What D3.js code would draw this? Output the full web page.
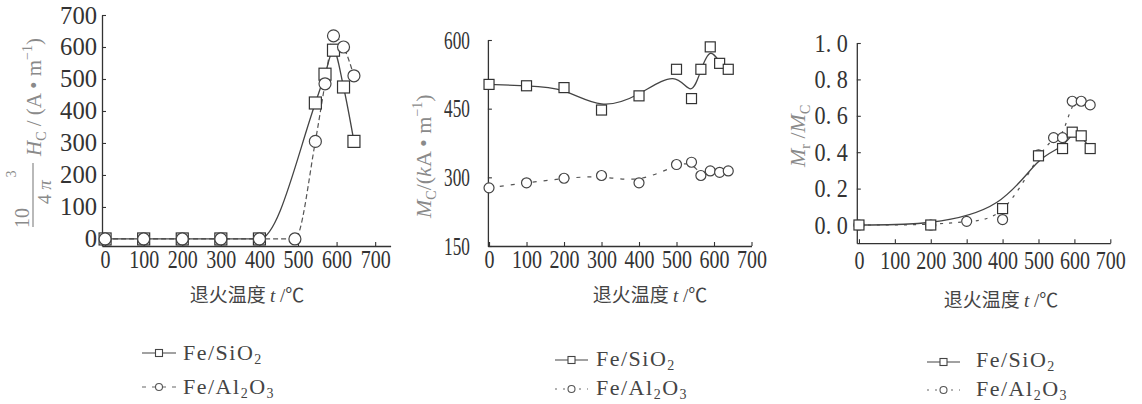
<!DOCTYPE html>
<html>
<head>
<meta charset="utf-8">
<script src="https://cdn.jsdelivr.net/npm/d3@7"></script>
<style>
body { margin: 0; background: #fff; }
</style>
</head>
<body>
<div id="chart"></div>
<script>
// coercivity panel (10^3/4pi Hc)
var hcSiT = [0, 100, 200, 300, 400, 545, 570, 592, 618, 645];
var hcSiV = [0, 0, 0, 0, 0, 425, 515, 590, 475, 305];
var hcAlT = [0, 100, 200, 300, 400, 492, 545, 570, 592, 618, 645];
var hcAlV = [0, 0, 0, 0, 0, 0, 305, 485, 635, 600, 510];

// saturation magnetization panel (kA/m)
var msSiT = [0, 100, 200, 300, 400, 500, 540, 565, 590, 615, 638];
var msSiV = [503, 500, 496, 447, 478, 536, 472, 536, 585, 549, 536];
var msAlT = [0, 100, 200, 300, 400, 500, 540, 565, 590, 615, 638];
var msAlV = [277, 288, 298, 304, 288, 328, 333, 304, 314, 311, 314];

// squareness panel (Mr/Mc)
var mrSiT = [0, 200, 400, 500, 567, 594, 619, 644];
var mrSiV = [0, 0, 0.09, 0.38, 0.42, 0.51, 0.49, 0.42];
var mrAlT = [0, 200, 300, 400, 500, 542, 567, 594, 619, 644];
var mrAlV = [0, 0, 0.02, 0.03, 0.385, 0.48, 0.48, 0.68, 0.68, 0.66];

var xTicks = [0, 100, 200, 300, 400, 500, 600, 700];
var hcTicks = [0, 100, 200, 300, 400, 500, 600, 700];
var msTicks = [150, 300, 450, 600];
var mrTicks = [0, 0.2, 0.4, 0.6, 0.8, 1.0];
var seriesNames = ["SiO", "Al"];

var W = 1142, H = 404;
var svg = d3.select("#chart").append("svg")
    .attr("width", W)
    .attr("height", H);

var serif = "'Liberation Serif', 'DejaVu Serif', serif";
var ink = "#333";

function zip(a, b) {
    return a.map(function(d, i) { return [d, b[i]]; });
}

function drawPanel(o) {
    var x = d3.scaleLinear().domain(o.xd).range(o.xr);
    var y = d3.scaleLinear().domain(o.yd).range(o.yr);
    var g = svg.append("g");

    // axes
    var ya = g.append("g")
        .attr("transform", "translate(" + o.xr[0] + ",0)")
        .call(d3.axisLeft(y).tickValues(o.yTicks).tickSize(-4).tickSizeOuter(0)
            .tickPadding(o.yPad).tickFormat(o.yFmt));
    var xa = g.append("g")
        .attr("transform", "translate(0," + o.yr[0] + ")")
        .call(d3.axisBottom(x).tickValues(xTicks).tickSize(-4).tickSizeOuter(0)
            .tickPadding(o.xPad));
    [ya, xa].forEach(function(a) {
        a.attr("font-family", serif);
        a.select(".domain").attr("stroke", ink).attr("stroke-width", 1.3);
        a.selectAll(".tick line").attr("stroke", ink).attr("stroke-width", 1.1);
        a.selectAll("text")
            .attr("font-family", serif)
            .attr("font-size", 25)
            .attr("fill", ink);
    });
    ya.selectAll("text").each(function() {
        var t = d3.select(this);
        t.attr("textLength", t.text().length * o.yChar).attr("lengthAdjust", "spacingAndGlyphs");
    });
    xa.selectAll("text").each(function() {
        var t = d3.select(this);
        t.attr("textLength", t.text().length * o.xChar).attr("lengthAdjust", "spacingAndGlyphs");
    });

    // curves
    var line = d3.line()
        .x(function(d) { return x(d[0]); })
        .y(function(d) { return y(d[1]); })
        .curve(o.curve);
    var si = zip(o.siT, o.siV), al = zip(o.alT, o.alV);
    g.append("path").datum(al)
        .attr("d", line).attr("fill", "none")
        .attr("stroke", "#555").attr("stroke-width", 1.2)
        .attr("stroke-dasharray", o.dash);
    g.append("path").datum(si)
        .attr("d", line).attr("fill", "none")
        .attr("stroke", "#444").attr("stroke-width", 1.3);

    // markers
    function squares() {
        g.selectAll(null).data(si).enter().append("rect")
            .attr("x", function(d) { return x(d[0]) - o.sq / 2; })
            .attr("y", function(d) { return y(d[1]) - o.sq / 2; })
            .attr("width", o.sq).attr("height", o.sq)
            .attr("fill", "#fff").attr("stroke", ink).attr("stroke-width", 1.2);
    }
    function circles() {
        g.selectAll(null).data(al).enter().append("circle")
            .attr("cx", function(d) { return x(d[0]); })
            .attr("cy", function(d) { return y(d[1]); })
            .attr("r", o.r)
            .attr("fill", "#fff").attr("stroke", "#444").attr("stroke-width", 1.2);
    }
    if (o.circlesOnTop) { squares(); circles(); } else { circles(); squares(); }

    // x title
    var xt = g.append("text")
        .attr("x", o.xtX).attr("y", o.xtY)
        .attr("text-anchor", "middle")
        .attr("font-family", "'Noto Sans CJK SC', sans-serif")
        .attr("font-size", 19)
        .attr("fill", "#444");
    xt.append("tspan").text("退火温度 ");
    xt.append("tspan").attr("font-family", serif).attr("font-style", "italic").text("t");
    xt.append("tspan").attr("font-family", serif).text(" /");
    xt.append("tspan").text("℃");

    // legend
    var lg = g.append("g").attr("transform", "translate(" + o.lgX + ",0)");
    seriesNames.forEach(function(s, i) {
        var yy = o.lgY[i];
        var cx = o.lgW / 2;
        if (i == 0) {
            lg.append("line").attr("x1", 0).attr("x2", o.lgW).attr("y1", yy).attr("y2", yy)
                .attr("stroke", "#444").attr("stroke-width", 1.2);
            lg.append("rect").attr("x", cx - 3.5).attr("y", yy - 3.5).attr("width", 7).attr("height", 7)
                .attr("fill", "#fff").attr("stroke", "#444").attr("stroke-width", 1.1);
        } else {
            lg.append("line").attr("x1", 0).attr("x2", o.lgW).attr("y1", yy).attr("y2", yy)
                .attr("stroke", "#666").attr("stroke-width", 1.1)
                .attr("stroke-dasharray", o.lgDash);
            lg.append("circle").attr("cx", cx).attr("cy", yy).attr("r", 3.5)
                .attr("fill", "#fff").attr("stroke", "#555").attr("stroke-width", 1.1);
        }
        var t = lg.append("text")
            .attr("x", o.lgTx).attr("y", o.lgBase[i])
            .attr("font-family", serif)
            .attr("font-size", 22)
            .attr("letter-spacing", 1.5)
            .attr("fill", "#444");
        if (i == 0) {
            t.append("tspan").text("Fe/SiO");
            t.append("tspan").attr("font-size", 14).attr("dy", 4).text("2");
        } else {
            t.append("tspan").text("Fe/Al");
            t.append("tspan").attr("font-size", 14).attr("dy", 4).text("2");
            t.append("tspan").attr("dy", -4).text("O");
            t.append("tspan").attr("font-size", 14).attr("dy", 4).text("3");
        }
    });
    return g;
}

var fmt0 = function(d) { return String(d); };
var fmt1 = function(d) { return d.toFixed(1).replace(".", ". "); };

drawPanel({
    xd: [-8, 740], xr: [102, 390.6], yd: [-22, 700], yr: [246, 15],
    yTicks: hcTicks, yFmt: fmt0, yPad: 5, xPad: 4, yChar: 12.3, xChar: 10,
    siT: hcSiT, siV: hcSiV, alT: hcAlT, alV: hcAlV,
    curve: d3.curveMonotoneX, dash: "5,3", sq: 12, r: 6, circlesOnTop: true,
    xtX: 247, xtY: 302,
    lgX: 142, lgW: 34, lgDash: "4,6", lgTx: 41, lgY: [353, 387], lgBase: [360, 394]
});

drawPanel({
    xd: [-3, 700], xr: [487.9, 751.5], yd: [150, 600], yr: [246, 40],
    yTicks: msTicks, yFmt: fmt0, yPad: 18, xPad: 4, yChar: 8.6, xChar: 10,
    siT: msSiT, siV: msSiV, alT: msAlT, alV: msAlV,
    curve: d3.curveBasis, dash: "4,7", sq: 10, r: 5, circlesOnTop: false,
    xtX: 650, xtY: 302,
    lgX: 555, lgW: 33, lgDash: "2,6", lgTx: 41, lgY: [360, 389], lgBase: [366, 395]
});

drawPanel({
    xd: [-6, 700], xr: [856.8, 1110.3], yd: [-0.1, 1.0], yr: [243.2, 43],
    yTicks: mrTicks, yFmt: fmt1, yPad: 9, xPad: 8, yChar: 8.3, xChar: 10,
    siT: mrSiT, siV: mrSiV, alT: mrAlT, alV: mrAlV,
    curve: d3.curveBasis, dash: "3,6", sq: 10, r: 5, circlesOnTop: false,
    xtX: 1001, xtY: 307,
    lgX: 927, lgW: 33, lgDash: "2,6", lgTx: 49, lgY: [362, 390], lgBase: [367, 396]
});

// y titles
var grey = "#8a8a8a";
var yl1 = svg.append("g").attr("transform", "translate(33,240) rotate(-90)")
    .attr("font-family", serif).attr("fill", grey);
yl1.append("line").attr("x1", 13).attr("x2", 77).attr("y1", 0).attr("y2", 0)
    .attr("stroke", grey).attr("stroke-width", 1.2);
yl1.append("text").attr("x", 22).attr("y", -4).attr("text-anchor", "middle")
    .attr("font-size", 20).text("10");
yl1.append("text").attr("x", 66).attr("y", -17).attr("text-anchor", "middle")
    .attr("font-size", 14).text("3");
var den = yl1.append("text").attr("x", 48).attr("y", 18).attr("text-anchor", "middle")
    .attr("font-size", 19);
den.append("tspan").text("4 ");
den.append("tspan").attr("font-style", "italic").text("π");
var hc = yl1.append("text").attr("x", 84).attr("y", 8).attr("font-size", 21);
hc.append("tspan").attr("font-style", "italic").text("H");
hc.append("tspan").attr("font-size", 14).attr("dy", 5).text("C");
hc.append("tspan").attr("dy", -5).text(" / (A • m");
hc.append("tspan").attr("font-size", 14).attr("dy", -9).text("−1");
hc.append("tspan").attr("dy", 9).text(")");

var yl2 = svg.append("text").attr("transform", "translate(431,218) rotate(-90)")
    .attr("font-family", serif).attr("fill", grey).attr("font-size", 22);
yl2.append("tspan").attr("font-style", "italic").text("M");
yl2.append("tspan").attr("font-size", 14).attr("dy", 5).text("C");
yl2.append("tspan").attr("dy", -5).text("/(");
yl2.append("tspan").attr("font-style", "italic").text("k");
yl2.append("tspan").text("A • m");
yl2.append("tspan").attr("font-size", 14).attr("dy", -9).text("−1");
yl2.append("tspan").attr("dy", 9).text(")");

var yl3 = svg.append("text").attr("transform", "translate(805,167) rotate(-90)")
    .attr("font-family", serif).attr("fill", grey).attr("font-size", 22);
yl3.append("tspan").attr("font-style", "italic").text("M");
yl3.append("tspan").attr("font-size", 14).attr("dy", 5).text("r");
yl3.append("tspan").attr("dy", -5).text(" /");
yl3.append("tspan").attr("font-style", "italic").text("M");
yl3.append("tspan").attr("font-size", 14).attr("dy", 5).text("C");
</script>
</body>
</html>
